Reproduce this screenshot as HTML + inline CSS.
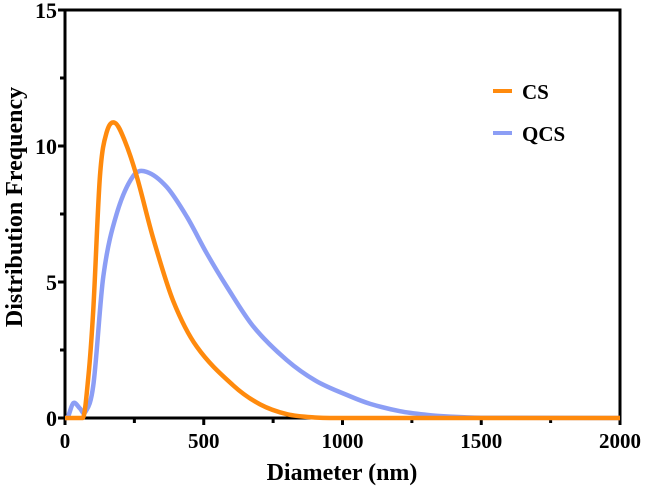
<!DOCTYPE html>
<html><head><meta charset="utf-8"><style>
body{margin:0;background:#fff}
svg text{font-family:"Liberation Serif",serif;font-weight:bold;fill:#000}
</style></head><body>
<svg id="chart" width="645" height="494" viewBox="0 0 645 494" xmlns="http://www.w3.org/2000/svg"></svg>
<script>
const xTicks=[0,500,1000,1500,2000];
const yTicks=[0,5,10,15];
const csX=[0,64,84,102,126,150,180,215,258,318,390,475,606,703,800,900,1000,1500,2000];
const csY=[0,0,1.5,4.0,8.9,10.5,10.85,10.2,8.9,6.6,4.3,2.62,1.2,0.5,0.14,0.02,0,0,0];
const qcsX=[0,6,30,54,72,102,138,186,246,294,366,439,511,583,679,799,907,1027,1100,1207,1300,1387,1500,2000];
const qcsY=[0,0,0.55,0.35,0.2,1.2,5.2,7.5,8.9,9.05,8.5,7.4,6.05,4.83,3.36,2.13,1.35,0.8,0.52,0.25,0.12,0.05,0.01,0];
const L=65,R=620,T=10,B=418;
const sx=v=>L+v/2000*(R-L), sy=v=>B-v/15*(B-T);
const svg=document.getElementById('chart');
const NS='http://www.w3.org/2000/svg';
function mk(tag,attrs,parent){const e=document.createElementNS(NS,tag);for(const k in attrs)e.setAttribute(k,attrs[k]);(parent||svg).appendChild(e);return e;}
let g=mk('rect',{x:L,y:T,width:R-L,height:B-T,fill:'none',stroke:'#000','stroke-width':3});


for(let v=0;v<=2000;v+=250){const t=mk('line',{x1:sx(v),x2:sx(v),y1:B,y2:B+(v%500===0?7:5),stroke:'#000','stroke-width':3});

}
xTicks.forEach(v=>{const t=mk('text',{x:sx(v),y:B+30,'text-anchor':'middle','font-size':21});t.textContent=v;

});
for(let v=0;v<=15;v+=2.5){const t=mk('line',{x1:L-(v%5===0?7:5),x2:L,y1:sy(v),y2:sy(v),stroke:'#000','stroke-width':3});

}
yTicks.forEach(v=>{const t=mk('text',{x:L-8,y:sy(v)+8,'text-anchor':'end','font-size':22});t.textContent=v;

});
let xt=mk('text',{x:342,y:480,'text-anchor':'middle','font-size':24});xt.textContent='Diameter (nm)';


let yt=mk('text',{x:0,y:0,'text-anchor':'middle','font-size':24,transform:'translate(22,207) rotate(-90)'});yt.textContent='Distribution Frequency';


function path(xs,ys){
  const n=xs.length,px=xs.map(sx),py=ys.map(sy),m=[];
  for(let i=0;i<n;i++){
    if(i===0||i===n-1){m[i]=0;continue;}
    if(ys[i]===0&&(ys[i-1]===0||ys[i+1]===0)){m[i]=0;continue;}
    m[i]=(py[i+1]-py[i-1])/(px[i+1]-px[i-1]);
  }
  let p='M'+px[0]+','+py[0];
  for(let i=0;i<n-1;i++){const h=(px[i+1]-px[i])/3;
    let y1=Math.min(py[i]+m[i]*h,B),y2=Math.min(py[i+1]-m[i+1]*h,B);
    p+=` C${px[i]+h},${y1} ${px[i+1]-h},${y2} ${px[i+1]},${py[i+1]}`;}
  return p;}
let q=mk('path',{d:path(qcsX,qcsY),fill:'none',stroke:'#8C9EF5','stroke-width':4.5,'stroke-linejoin':'round'});


let c=mk('path',{d:path(csX,csY),fill:'none',stroke:'#FF8A0D','stroke-width':4.5,'stroke-linejoin':'round'});


[['CS','#FF8A0D',91],['QCS','#8C9EF5',133]].forEach(([n,col,y])=>{
const l=mk('line',{x1:493,x2:512,y1:y,y2:y,stroke:col,'stroke-width':4});


const t=mk('text',{x:522,y:y+8,'font-size':21});t.textContent=n;

});
</script>
</body></html>
